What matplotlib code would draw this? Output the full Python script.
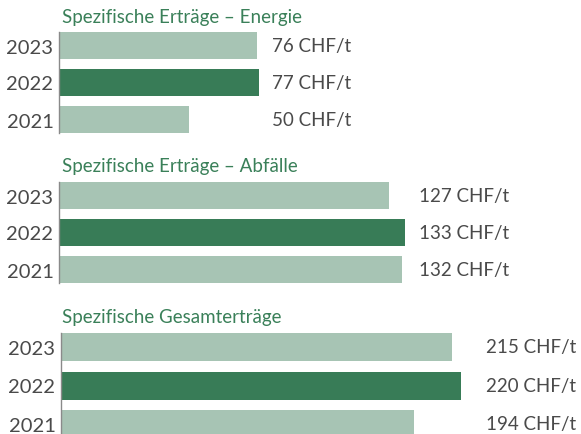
import matplotlib
matplotlib.use("Agg")
import matplotlib.pyplot as plt
import matplotlib.transforms as mtransforms

years = ["2023", "2022", "2021"]
energie = [76, 77, 50]
abfaelle = [127, 133, 132]
gesamt = [215, 220, 194]
titles = ["Spezifische Erträge – Energie",
          "Spezifische Erträge – Abfälle",
          "Spezifische Gesamterträge"]
unit = "CHF/t"

LIGHT = "#a7c4b4"
DARK = "#387c57"
TITLE_GREEN = "#3a8059"
TEXT_GRAY = "#4a4a4a"

W, H = 581, 435
plt.rcParams["font.family"] = ["Lato", "DejaVu Sans"]


def px_box(left, top, width, height):
    return [left / W, 1 - (top + height) / H, width / W, height / H]


def panel(fig, values, title, left, top, step, bar_h, px_per_unit,
          label_x, label_ha, title_y):
    # axes spans exactly the three bars; one y unit = one bar step
    height = 2 * step + bar_h
    width = W - left
    ax = fig.add_axes(px_box(left, top, width, height))
    ax.set_facecolor("none")
    half = bar_h / 2 / step
    ax.barh(range(len(values)), values, height=bar_h / step,
            color=[LIGHT, DARK, LIGHT])
    ax.set_ylim(len(values) - 1 + half, -half)
    ax.set_xlim(0, width / px_per_unit)
    ax.set_yticks(range(len(years)))
    ax.set_yticklabels(years, fontsize=14.5, color=TEXT_GRAY)
    ax.tick_params(axis="y", length=0, pad=4)
    ax.set_xticks([])
    for s in ["top", "right", "bottom"]:
        ax.spines[s].set_visible(False)
    ax.spines["left"].set_color("#8a8a8a")
    ax.spines["left"].set_linewidth(1.0)

    trans = mtransforms.blended_transform_factory(fig.transFigure, ax.transData)
    for i, v in enumerate(values):
        ax.text(label_x / W, i, f"{v} {unit}", transform=trans, ha=label_ha,
                va="center", fontsize=13.5, color=TEXT_GRAY)
    fig.text(62 / W, 1 - title_y / H, title, ha="left", va="center",
             fontsize=13.5, color=TITLE_GREEN)
    return ax


fig = plt.figure(figsize=(W / 100, H / 100), dpi=100)
panel(fig, energie, titles[0], 59, 33, 37, 27, 2.6, 272, "left", 18)
panel(fig, abfaelle, titles[1], 59, 183, 37, 27, 2.6, 419, "left", 167)
panel(fig, gesamt, titles[2], 61, 334, 38.5, 28, 1.82, 576, "right", 318)

fig.savefig("out.png", dpi=100)
